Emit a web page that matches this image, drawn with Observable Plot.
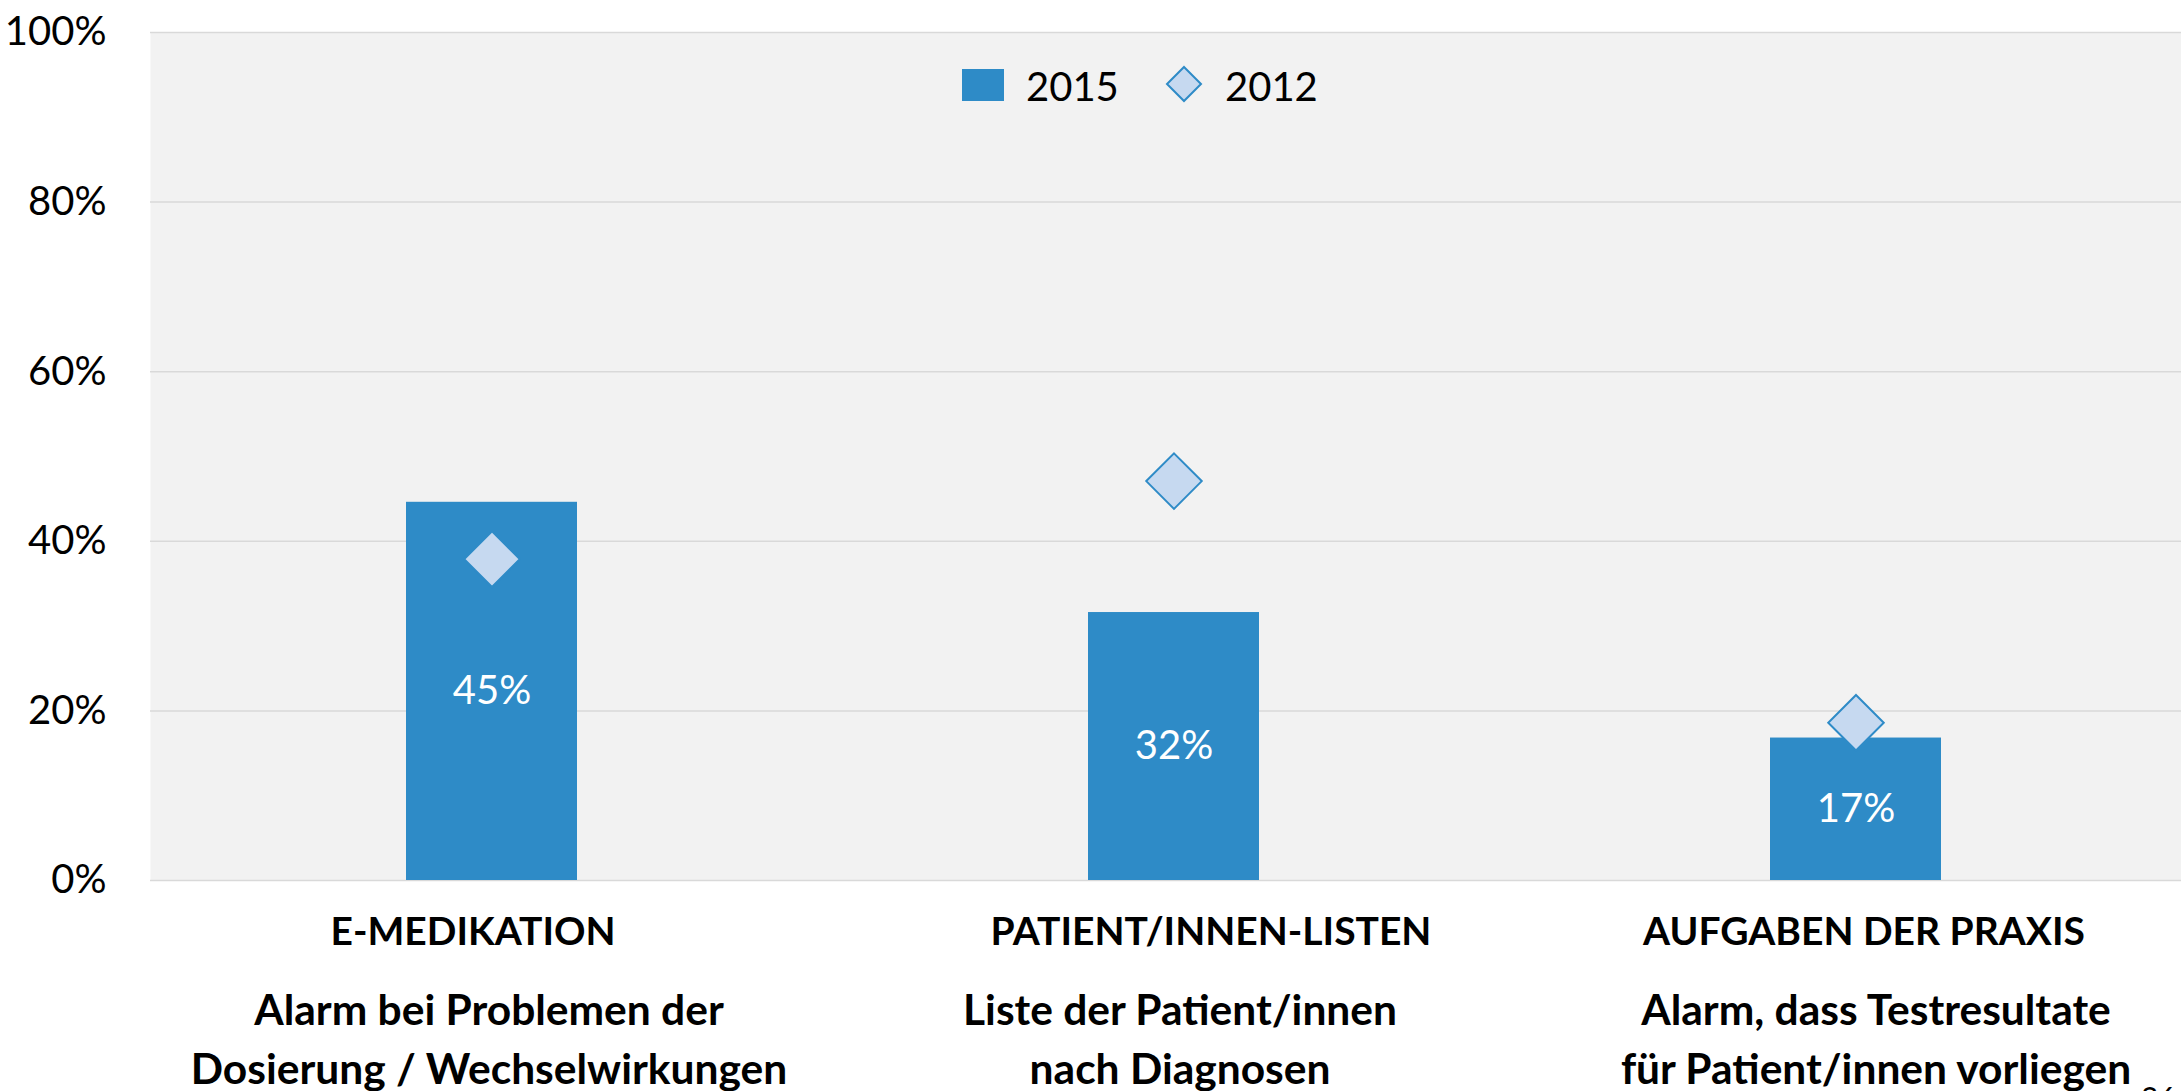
<!DOCTYPE html>
<html>
<head>
<meta charset="utf-8">
<script src="https://cdn.jsdelivr.net/npm/d3@7"></script>
<script src="https://cdn.jsdelivr.net/npm/@observablehq/plot@0.6"></script>
<style>
  html, body { margin: 0; padding: 0; background: white; overflow: hidden; }
  #wrap { position: relative; width: 2181px; height: 1091px; font-family: Lato, sans-serif; }
  .lg { position: absolute; font-size: 40px; line-height: 1; color: #000; }
  #page { position: absolute; left: 2141px; top: 1079px; font-size: 30px; font-family: Lato, sans-serif; color: #000; }
</style>
</head>
<body>
<div id="wrap"></div>
<script>
// ---- data ----
const categories = ["E-MEDIKATION", "PATIENT/INNEN-LISTEN", "AUFGABEN DER PRAXIS"];
const descriptions = [
  "Alarm bei Problemen der\nDosierung / Wechselwirkungen",
  "Liste der Patient/innen\nnach Diagnosen",
  "Alarm, dass Testresultate\nfür Patient/innen vorliegen"
];
const values2015 = [0.446, 0.316, 0.168];
const values2012 = [0.379, 0.471, 0.186];
const yTicks = [0, 0.2, 0.4, 0.6, 0.8, 1];
const seriesNames = ["2015", "2012"];

// ---- layout / styles ----
const barColor = "#2e8bc7";
const diamondFill = "#c6d9f0";
const titleShift = [-19, 37, 8];
const descShift = [-3, 6, 20];

const rows = categories.map((c, i) => ({
  cat: c, desc: descriptions[i], v2015: values2015[i], v2012: values2012[i],
  tdx: titleShift[i], ddx: descShift[i]
}));
const pct = d3.format(".0%");

const chart = Plot.plot({
  width: 2181,
  height: 1091,
  marginLeft: 150,
  marginRight: 0,
  marginTop: 32,
  marginBottom: 211,
  style: { fontFamily: "Lato, sans-serif", background: "white", overflow: "visible", color: "#000" },
  x: { domain: categories, range: [150, 2196], paddingInner: 0.75, paddingOuter: 0.375, axis: null },
  y: { domain: [0, 1], axis: null },
  marks: [
    Plot.frame({ fill: "#f2f2f2", stroke: null }),
    Plot.gridY(yTicks, { stroke: "#d9d9d9", strokeOpacity: 1, strokeWidth: 1.5 }),
    Plot.axisY(yTicks, { tickSize: 0, tickPadding: 44, fontSize: 40, fill: "#000", tickFormat: pct, label: null }),
    Plot.barY(rows, { x: "cat", y: "v2015", fill: barColor }),
    Plot.text(rows, { x: "cat", y: d => d.v2015 / 2, text: d => pct(d.v2015), fill: "white", fontSize: 40 }),
    Plot.dot(rows, { x: "cat", y: "v2012", symbol: "diamond2", r: 25, fill: diamondFill, stroke: barColor, strokeWidth: 2 }),
    ...rows.map(r => Plot.text([r], { x: "cat", y: () => 0, text: "cat", dy: 52, dx: r.tdx, fontWeight: "bold", fontSize: 39, fill: "#000" })),
    ...rows.map(r => Plot.text([r], { x: "cat", y: () => 0, text: "desc", dy: 155, dx: r.ddx, lineHeight: 1.39, fontWeight: "bold", fontSize: 42.5, fill: "#000" }))
  ]
});

const wrap = document.getElementById("wrap");
wrap.appendChild(chart);

// legend inside plot area
const legendHTML = `
  <div class="lg" style="left:962px;top:69px;width:42px;height:32px;background:${barColor}"></div>
  <div class="lg" style="left:1026px;top:66px;">${seriesNames[0]}</div>
  <svg class="lg" style="left:1164px;top:64px;" width="40" height="40" viewBox="-20 -20 40 40">
    <path d="M0,-17L17,0L0,17L-17,0Z" fill="${diamondFill}" stroke="${barColor}" stroke-width="2"/>
  </svg>
  <div class="lg" style="left:1225px;top:66px;">${seriesNames[1]}</div>
  <div id="page">26</div>
`;
wrap.insertAdjacentHTML("beforeend", legendHTML);
</script>
</body>
</html>
